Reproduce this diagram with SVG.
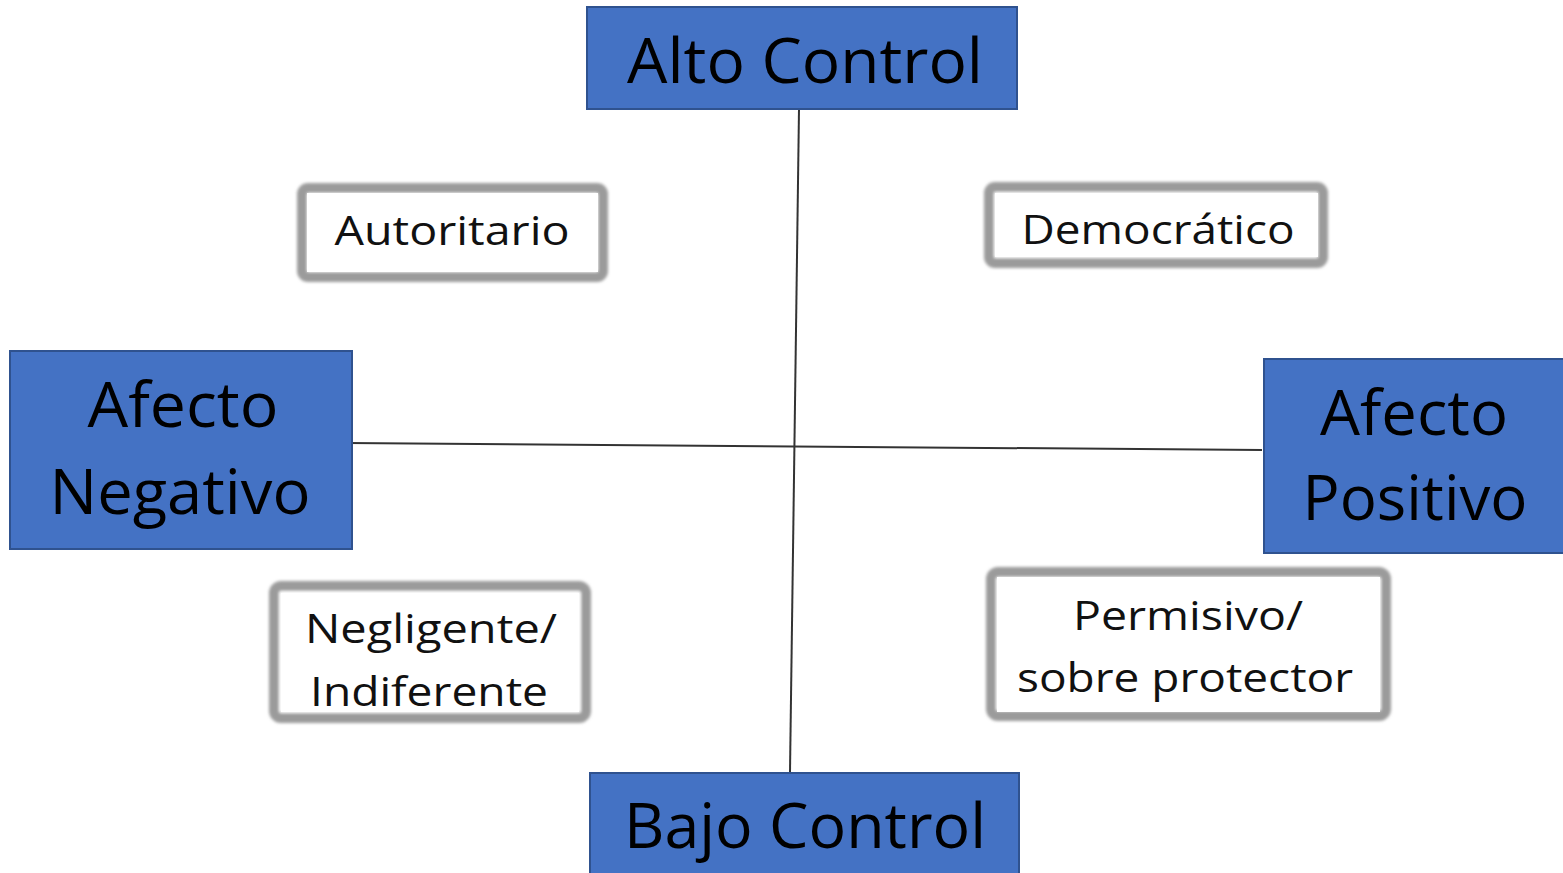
<svg xmlns="http://www.w3.org/2000/svg" width="1563" height="873" viewBox="0 0 1563 873">
<defs>
<filter id="soft" x="-10%" y="-10%" width="120%" height="120%"><feGaussianBlur stdDeviation="1.5"/></filter>
<style>
.blue{fill:#4472C4;stroke:#2F528F;stroke-width:2}
.frame{fill:#fff;stroke:#9b9b9b;stroke-width:10}
.big{font-family:"Open Sans","Liberation Sans",sans-serif;font-size:62px;fill:#000;text-anchor:middle}
.small{font-family:"Open Sans","Liberation Sans",sans-serif;font-size:41px;fill:#111;text-anchor:middle}
.axis{stroke:#333;stroke-width:2;fill:none}
</style>
</defs>
<rect width="1563" height="873" fill="#fff"/>
<g id="connectors">
<line class="axis" x1="799" y1="109" x2="790" y2="772"/>
<line class="axis" x1="347" y1="443" x2="1262" y2="450"/>
</g>
<g id="alto-control">
<rect class="blue" x="587" y="7" width="430" height="102"/>
<text class="big" x="805" y="83" textLength="356" lengthAdjust="spacingAndGlyphs">Alto Control</text>
</g>
<g id="bajo-control">
<rect class="blue" x="590" y="773" width="429" height="110"/>
<text class="big" x="805" y="848" textLength="362" lengthAdjust="spacingAndGlyphs">Bajo Control</text>
</g>
<g id="afecto-negativo">
<rect class="blue" x="10" y="351" width="342" height="198"/>
<text class="big" x="183" y="427" textLength="191" lengthAdjust="spacingAndGlyphs">Afecto</text>
<text class="big" x="180" y="514" textLength="261" lengthAdjust="spacingAndGlyphs">Negativo</text>
</g>
<g id="afecto-positivo">
<rect class="blue" x="1264" y="359" width="305" height="194"/>
<text class="big" x="1414" y="435" textLength="188" lengthAdjust="spacingAndGlyphs">Afecto</text>
<text class="big" x="1415" y="520" textLength="225" lengthAdjust="spacingAndGlyphs">Positivo</text>
</g>
<g id="autoritario">
<rect class="frame" x="302" y="188" width="301" height="89" rx="6" filter="url(#soft)"/>
<rect x="307" y="193" width="291" height="79" fill="#fff"/>
<text class="small" x="452" y="245" textLength="235" lengthAdjust="spacingAndGlyphs">Autoritario</text>
</g>
<g id="democratico">
<rect class="frame" x="989" y="187" width="334" height="76" rx="6" filter="url(#soft)"/>
<rect x="995" y="193" width="323" height="64" fill="#fff"/>
<text class="small" x="1158" y="244" textLength="273" lengthAdjust="spacingAndGlyphs">Democrático</text>
</g>
<g id="negligente">
<rect class="frame" x="274" y="586" width="312" height="132" rx="7" filter="url(#soft)"/>
<rect x="281" y="593" width="298" height="119" fill="#fff"/>
<text class="small" x="431" y="643" textLength="252" lengthAdjust="spacingAndGlyphs">Negligente/</text>
<text class="small" x="429" y="706" textLength="238" lengthAdjust="spacingAndGlyphs">Indiferente</text>
</g>
<g id="permisivo">
<rect class="frame" x="991" y="572" width="395" height="144" rx="7" filter="url(#soft)"/>
<rect x="997" y="577" width="383" height="135" fill="#fff"/>
<text class="small" x="1188" y="630" textLength="230" lengthAdjust="spacingAndGlyphs">Permisivo/</text>
<text class="small" x="1185" y="692" textLength="336" lengthAdjust="spacingAndGlyphs">sobre protector</text>
</g>
</svg>
